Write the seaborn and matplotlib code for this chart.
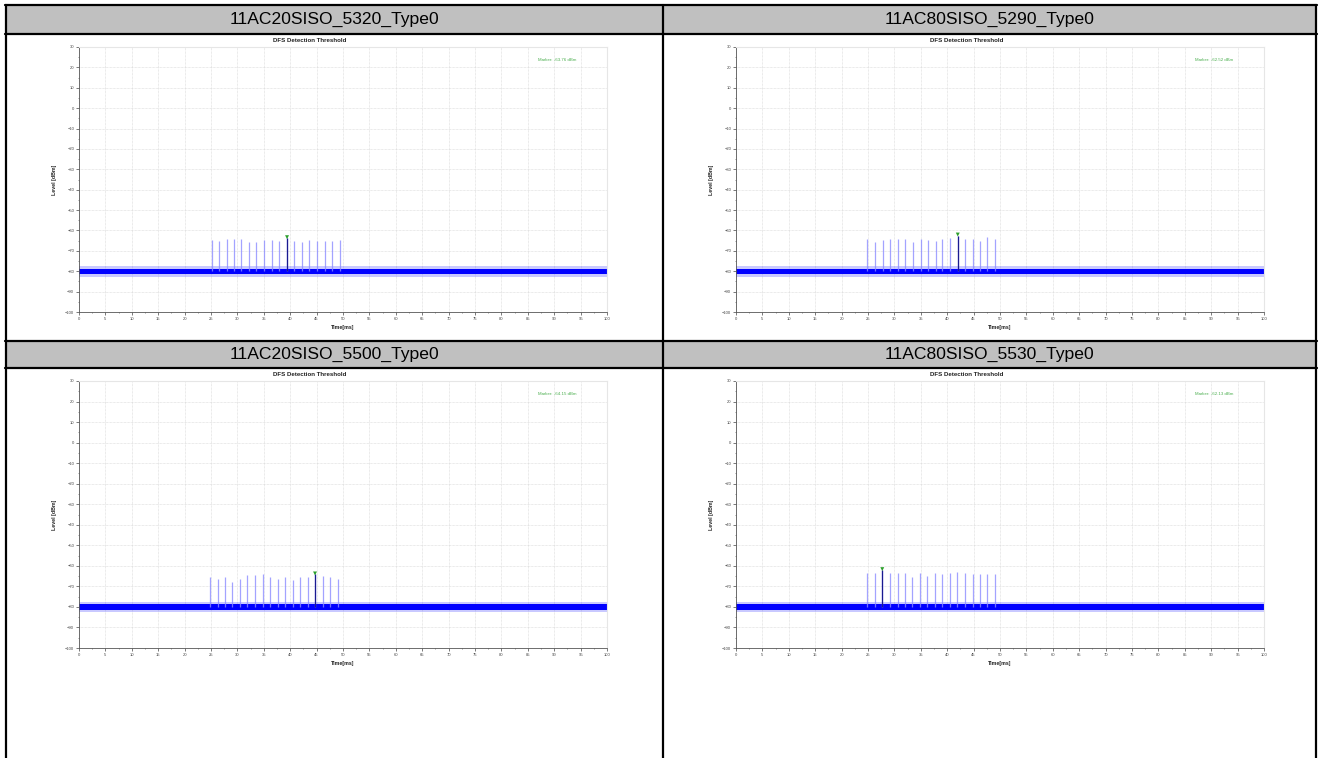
#!/usr/bin/env python3
"""DFS detection threshold captures -- 2x2 report table recreation."""

import matplotlib.pyplot as plt
import seaborn as sns
import pandas as pd
from matplotlib.lines import Line2D
from matplotlib.patches import Rectangle

# %% Data (read off the reference captures)
headers = ["11AC20SISO_5320_Type0", "11AC80SISO_5290_Type0",
           "11AC20SISO_5500_Type0", "11AC80SISO_5530_Type0"]

pulse_times = [
    [25.1, 26.5, 28.0, 29.3, 30.7, 32.2, 33.6, 35.1, 36.5, 37.9, 39.4, 40.8, 42.2, 43.6, 45.0, 46.5, 47.9, 49.4],
    [24.9, 26.4, 27.9, 29.2, 30.6, 32.1, 33.5, 35.0, 36.3, 37.8, 39.1, 40.6, 42.0, 43.4, 44.9, 46.3, 47.6, 49.1],
    [24.9, 26.3, 27.7, 29.0, 30.5, 31.9, 33.4, 34.8, 36.2, 37.6, 39.1, 40.5, 41.9, 43.3, 44.7, 46.2, 47.6, 49.0],
    [24.9, 26.4, 27.7, 29.1, 30.6, 32.0, 33.4, 34.9, 36.2, 37.7, 39.1, 40.5, 41.9, 43.4, 44.8, 46.2, 47.6, 49.1],
]
pulse_levels = [
    [-64.8, -65.0, -64.2, -64.3, -64.3, -65.5, -65.8, -64.9, -64.8, -65.3, -63.8, -65.4, -65.5, -64.5, -65.0, -65.4, -65.1, -64.8],
    [-64.3, -65.7, -64.8, -64.1, -64.1, -64.1, -65.7, -64.1, -64.9, -65.1, -64.4, -63.5, -62.5, -64.1, -64.1, -65.0, -63.3, -64.4],
    [-65.4, -66.2, -65.3, -68.0, -66.3, -64.4, -64.7, -64.0, -65.3, -66.3, -65.6, -67.0, -65.6, -65.3, -64.2, -65.0, -65.3, -66.2],
    [-63.3, -63.5, -62.1, -63.3, -63.5, -63.5, -65.4, -63.5, -65.0, -63.6, -63.9, -63.6, -63.1, -63.6, -63.9, -64.1, -63.9, -63.8],
]
marker_index = [10, 12, 14, 2]
marker_values = [-63.76, -62.52, -64.15, -62.13]

noise_center = [-80.0, -80.0, -80.0, -80.0]
noise_core = 1.3     # half width of the dense noise band, dB
noise_spread = 2.6   # half width of the sparse noise fringe, dB

y_ticks = list(range(-100, 31, 10))
x_ticks = list(range(0, 101, 5))

# %% Layout (pixel boxes of the embedded captures)
W, H = 1320, 758
axes_px = [(79, 47, 607, 312), (736, 47, 1264, 312),
           (79, 381, 607, 648), (736, 381, 1264, 648)]
header_px = [(6, 5, 663, 34), (663, 5, 1316, 34),
             (6, 341, 663, 368), (663, 341, 1316, 368)]

sns.set_theme(style="whitegrid")
plt.rcParams["font.family"] = ["Liberation Sans", "DejaVu Sans"]

fig = plt.figure(figsize=(W / 100, H / 100), dpi=100)
fig.patch.set_facecolor("white")


def frac(l, t, r, b):
    return [l / W, 1 - b / H, (r - l) / W, (b - t) / H]


# header cells
for (l, t, r, b), text in zip(header_px, headers):
    x0, y0, w, h = frac(l, t, r, b)
    fig.add_artist(Rectangle((x0, y0), w, h, transform=fig.transFigure,
                             facecolor="#c0c0c0", edgecolor="none", zorder=0))
    fig.text(x0 + w / 2, y0 + h / 2, text, ha="center", va="center",
             fontsize=12.6, color="black")

# table rules
lw = 1.6
for y in (5, 34, 341, 368):
    fig.add_artist(Line2D([5 / W, 1317 / W], [1 - y / H] * 2,
                          transform=fig.transFigure, color="black", lw=lw))
for x in (6, 663, 1316):
    fig.add_artist(Line2D([x / W] * 2, [1 - 5 / H, 0],
                          transform=fig.transFigure, color="black", lw=lw))

# %% Captures
for i, box in enumerate(axes_px):
    ax = fig.add_axes(frac(*box))
    ax.set_facecolor("white")

    c = noise_center[i]
    ax.fill_between([0, 100], c - noise_spread, c + noise_spread,
                    color="#4d4dff", alpha=0.3, lw=0)
    ax.fill_between([0, 100], c - noise_core, c + noise_core,
                    color="#0000ff", lw=0)

    pulses = pd.DataFrame({"t": pulse_times[i], "level": pulse_levels[i]})
    ax.vlines(pulses["t"], c, pulses["level"], color="#8c8cff", lw=0.9, alpha=0.8)
    m = marker_index[i]
    ax.vlines(pulses["t"][m], c, pulses["level"][m], color="#1a1a90", lw=0.9)
    sns.scatterplot(x=[pulses["t"][m]], y=[pulses["level"][m] + 0.5], ax=ax,
                    marker="v", s=8, color="#2ca02c", edgecolor="none", zorder=5)

    ax.text(0.905, 0.95, f"Marker: {marker_values[i]:.2f} dBm", transform=ax.transAxes,
            ha="center", va="center", fontsize=3.2, color="#4caf50")
    ax.text(0.4375, 1.026, "DFS Detection Threshold", transform=ax.transAxes,
            ha="center", va="center", fontsize=4.4, fontweight="bold", color="#222222")

    ax.set_xlim(0, 100)
    ax.set_ylim(-100, 30)
    ax.set_xticks(x_ticks)
    ax.set_yticks(y_ticks)
    ax.set_xticks([t + 2.5 for t in x_ticks[:-1]], minor=True)
    ax.set_yticks([t + 5 for t in y_ticks[:-1]], minor=True)
    ax.tick_params(which="major", labelsize=3, colors="#444444", length=2, width=0.5, pad=1.5)
    ax.tick_params(which="minor", length=1, width=0.4, colors="#444444")
    ax.tick_params(axis="x", bottom=True, which="both")
    ax.tick_params(axis="y", left=True, which="both")
    ax.grid(True, which="major", color="#d6d6d6", lw=0.5, ls=(0, (1, 1)))
    ax.set_xlabel("Time[ms]", fontsize=3.8, fontweight="bold", labelpad=3, color="#222222")
    ax.set_ylabel("Level [dBm]", fontsize=3.8, fontweight="bold", labelpad=6, color="#222222")
    for side in ("top", "right"):
        ax.spines[side].set_color("#e6e6e6")
        ax.spines[side].set_linewidth(0.8)
    for side in ("left", "bottom"):
        ax.spines[side].set_color("#555555")
        ax.spines[side].set_linewidth(0.6)

fig.savefig("out.png", dpi=100, facecolor="white")
